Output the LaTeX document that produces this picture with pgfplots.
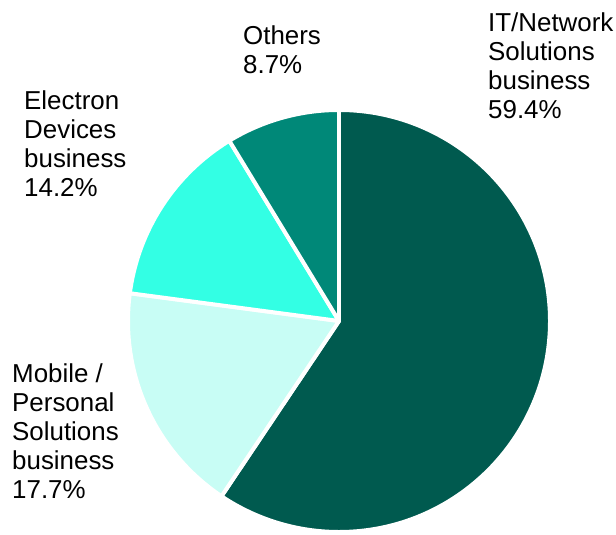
\documentclass[border=0pt]{standalone}
\usepackage{pgfplots}
\usepackage{pgfplotstable}
\pgfplotsset{compat=1.18}
\usepackage{fontspec}
\setmainfont{Liberation Sans}

\definecolor{itnet}{HTML}{005A4F}
\definecolor{mobile}{HTML}{C8FDF5}
\definecolor{electron}{HTML}{33FFE4}
\definecolor{others}{HTML}{008878}

% share of sales, clockwise from 12 o'clock
\pgfplotstableread{
name     value  col
itnet    59.4   itnet
mobile   17.7   mobile
electron 14.2   electron
others   8.7    others
}\piedata

\begin{document}
\begin{tikzpicture}
\begin{axis}[
  x=1bp, y=1bp,
  xmin=0, xmax=616, ymin=0, ymax=535,
  hide axis, clip=false,
]
  \path (axis cs:0,0) rectangle (axis cs:616,535);
  \def\cx{339}\def\cy{214}\def\r{211}
  \draw[gray!40, line width=0.8pt] (axis cs:\cx,\cy) circle[radius=\r bp];
  \def\start{90}
  \pgfplotsforeachungrouped \i in {0,...,3}{%
    \pgfplotstablegetelem{\i}{value}\of\piedata \let\v\pgfplotsretval
    \pgfplotstablegetelem{\i}{col}\of\piedata \let\c\pgfplotsretval
    \pgfmathsetmacro\stop{\start-3.6*\v}%
    \edef\temp{\noexpand\fill[\c, draw=white, line width=4pt, line join=round]
      (axis cs:\cx,\cy) -- ++(\start:\r bp)
      arc[start angle=\start, end angle=\stop, radius=\r bp] -- cycle;}%
    \temp
    \let\start\stop
  }

  \tikzset{lbl/.style={anchor=north west, align=left, inner sep=0pt,
    font=\fontsize{26}{29}\selectfont}}
  \node[lbl] at (axis cs:488,522) {IT/Network\\Solutions\\business\\59.4\%};
  \node[lbl] at (axis cs:243,509) {Others\\8.7\%};
  \node[lbl] at (axis cs:24,444) {Electron\\Devices\\business\\14.2\%};
  \node[lbl] at (axis cs:12,171) {Mobile /\\Personal\\Solutions\\business\\17.7\%};
\end{axis}
\end{tikzpicture}
\end{document}
